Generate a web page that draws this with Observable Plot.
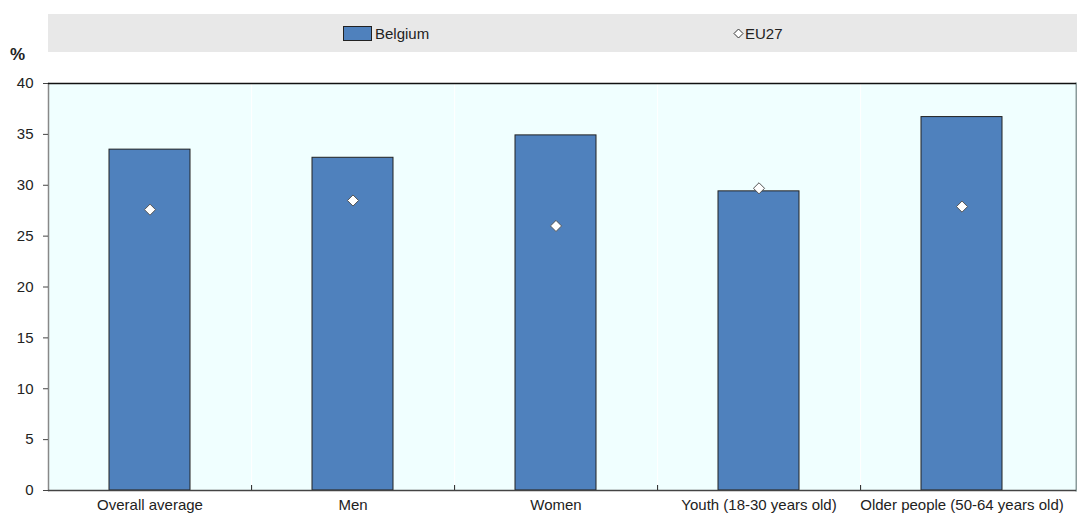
<!DOCTYPE html>
<html>
<head>
<meta charset="utf-8">
<script src="https://cdn.jsdelivr.net/npm/d3@7"></script>
<script src="https://cdn.jsdelivr.net/npm/@observablehq/plot@0.6"></script>
<style>
  body { margin: 0; background: #fff; font-family: "Liberation Sans", Arial, sans-serif; }
  #wrap { position: relative; width: 1077px; height: 513px; }
  #legend { position: absolute; left: 48px; top: 14px; width: 1029px; height: 38px; background: #e8e8e8; }
  .item { position: absolute; top: 0; height: 38px; display: flex; align-items: center; font-size: 15px; color: #222; }
  .sw { width: 27px; height: 13px; background: #4f81bd; border: 1px solid #222; margin-right: 3px; }
  #ylab { position: absolute; left: 10px; top: 45px; font-size: 17px; font-weight: bold; color: #222; }
</style>
</head>
<body>
<div id="wrap">
  <div id="chart"></div>
  <div id="legend">
    <div class="item" style="left:295px"><div class="sw"></div><span>Belgium</span></div>
    <div class="item" style="left:684px"><svg width="13" height="13" style="margin-right:0px"><path d="M6.5,2L11,6.5L6.5,11L2,6.5Z" fill="#fff" stroke="#333" stroke-width="1"/></svg><span>EU27</span></div>
  </div>
  <div id="ylab">%</div>
</div>
<script>
const categories = ["Overall average", "Men", "Women", "Youth (18-30 years old)", "Older people (50-64 years old)"];
const belgium = [33.5, 32.7, 34.9, 29.4, 36.7];
const eu27 = [27.6, 28.5, 26.0, 29.7, 27.9];
const yTicks = [0, 5, 10, 15, 20, 25, 30, 35, 40];

const rows = categories.map((c, i) => ({category: c, belgium: belgium[i], eu27: eu27[i]}));
const separators = categories.slice(0, -1);
const step = (1064 - 48) / categories.length;

const chart = Plot.plot({
  width: 1077,
  height: 513,
  marginTop: 83,
  marginBottom: 23,
  marginLeft: 48,
  marginRight: 1,
  style: {fontFamily: "'Liberation Sans', Arial, sans-serif", fontSize: "15px", color: "#222", background: "transparent"},
  x: {domain: categories, range: [48, 1064], paddingInner: 0.6, paddingOuter: 0.3, label: null},
  y: {domain: [0, 40], label: null},
  marks: [
    Plot.frame({fill: "#f0ffff", stroke: null}),
    Plot.ruleX(separators, {x: d => d, dx: step / 2, stroke: "#ffffff", strokeWidth: 1}),
    Plot.ruleX(separators, {x: d => d, dx: step / 2, stroke: "#222", strokeWidth: 1, insetTop: 402}),
    Plot.barY(rows, {x: "category", y: "belgium", fill: "#4f81bd", stroke: "#222", strokeWidth: 1}),
    Plot.dot(rows, {x: "category", y: "eu27", symbol: "diamond2", r: 5, fill: "#fff", stroke: "#555", strokeWidth: 1}),
    Plot.frame({anchor: "left", stroke: "#888", strokeWidth: 1.5}),
    Plot.frame({anchor: "right", stroke: "#8a9a9a", strokeWidth: 2}),
    Plot.ruleY([40], {stroke: "#111", strokeWidth: 1.5}),
    Plot.ruleY([0], {stroke: "#444", strokeWidth: 1.5}),
    Plot.axisY({ticks: yTicks, tickSize: 5, tickPadding: 10, stroke: "#444", fill: "#222", label: null}),
    Plot.axisX({tickSize: 0, tickPadding: 9, fill: "#222", label: null})
  ]
});
document.getElementById("chart").append(chart);
</script>
</body>
</html>
